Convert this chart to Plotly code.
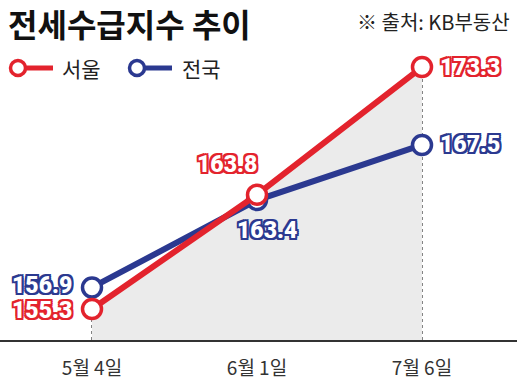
import plotly.graph_objects as go

categories = ["5월 4일", "6월 1일", "7월 6일"]
seoul = [155.3, 163.8, 173.3]
national = [156.9, 163.4, 167.5]
series_names = ["서울", "전국"]

RED = "#e3232d"
BLUE = "#2b3990"
W, H = 517, 389
T, B = 40, 49
YMIN, YMAX = 152.99, 175.31


def py(pix):
    return (H - B - pix) / (H - T - B)


def outline(c, w=2):
    offs = [(-w, -w), (w, -w), (-w, w), (w, w), (0, w), (0, -w), (w, 0), (-w, 0)]
    return ", ".join(f"{a}px {b}px 0 {c}" for a, b in offs)


fig = go.Figure()

# gray area under Seoul
fig.add_trace(go.Scatter(x=categories, y=seoul, mode="lines", line=dict(width=0),
                         fill="tozeroy", fillcolor="#ebebeb", hoverinfo="skip", showlegend=False))

# dotted verticals
for c, s, n in zip(categories, seoul, national):
    fig.add_shape(type="line", xref="x", yref="y", x0=c, x1=c, y0=YMIN, y1=max(s, n),
                  line=dict(color="#333", width=1.2, dash="dot"), layer="below")

fig.add_trace(go.Scatter(x=categories, y=national, mode="lines+markers", name=series_names[1],
                         line=dict(color=BLUE, width=6),
                         marker=dict(size=19, color="white", line=dict(color=BLUE, width=3.5)),
                         showlegend=False))
fig.add_trace(go.Scatter(x=categories, y=seoul, mode="lines+markers", name=series_names[0],
                         line=dict(color=RED, width=6),
                         marker=dict(size=19, color="white", line=dict(color=RED, width=3.5)),
                         showlegend=False))

lab_font = dict(family="Roboto, Arial", size=23, color="white", weight=900)

# value labels: (category index, value, color, xanchor, xshift, yshift)
placements = [
    (0, seoul[0], RED, "right", -18, -2),
    (1, seoul[1], RED, "center", -30, 30),
    (2, seoul[2], RED, "left", 16, 0),
    (0, national[0], BLUE, "right", -18, 2),
    (1, national[1], BLUE, "center", 10, -30),
    (2, national[2], BLUE, "left", 16, 0),
]
for i, v, col, xa, xs, ys in placements:
    f = dict(lab_font)
    f["shadow"] = outline(col, 2)
    fig.add_annotation(x=categories[i], y=v, xref="x", yref="y", text=f"{v:.1f}",
                       showarrow=False, xanchor=xa, yanchor="middle", xshift=xs, yshift=ys,
                       font=f)

# title and source
fig.add_annotation(x=6 / W, y=py(23), xref="paper", yref="paper", text="<b>전세수급지수 추이</b>",
                   showarrow=False, xanchor="left", yanchor="middle",
                   font=dict(family="Noto Sans CJK KR", size=32, color="#111", weight=900))
fig.add_annotation(x=512 / W, y=py(22), xref="paper", yref="paper", text="※ 출처: KB부동산",
                   showarrow=False, xanchor="right", yanchor="middle",
                   font=dict(family="Noto Sans CJK KR", size=20, color="#222"))

# custom legend
for cx, col, name, tx in [(18, RED, series_names[0], 60), (137, BLUE, series_names[1], 180)]:
    yy = py(68)
    fig.add_shape(type="line", xref="paper", yref="paper", x0=(cx + 6) / W, x1=(cx + 35) / W,
                  y0=yy, y1=yy, line=dict(color=col, width=5))
    fig.add_shape(type="circle", xref="paper", yref="paper", xsizemode="pixel", ysizemode="pixel",
                  xanchor=cx / W, yanchor=yy, x0=-7.5, x1=7.5, y0=-7.5, y1=7.5,
                  line=dict(color=col, width=3.5), fillcolor="white")
    fig.add_annotation(x=tx / W, y=yy, xref="paper", yref="paper", text=name, showarrow=False,
                       xanchor="left", yanchor="middle",
                       font=dict(family="Noto Sans CJK KR", size=21, color="#222"))

fig.update_layout(
    width=W, height=H, margin=dict(l=0, r=0, t=T, b=B),
    paper_bgcolor="white", plot_bgcolor="white",
    xaxis=dict(type="category", range=[-92 / 165, 2 + 95 / 165], showgrid=False, zeroline=False,
               showline=True, linecolor="#333", linewidth=1.5, ticks="",
               tickfont=dict(family="Noto Sans CJK KR", size=19, color="#333"),
               ticklabelstandoff=10),
    yaxis=dict(range=[YMIN, YMAX], visible=False),
    showlegend=False,
)

fig.write_html("out.html", config={"displayModeBar": False},
               post_script="document.body.style.margin='0';document.body.style.overflow='hidden';")
